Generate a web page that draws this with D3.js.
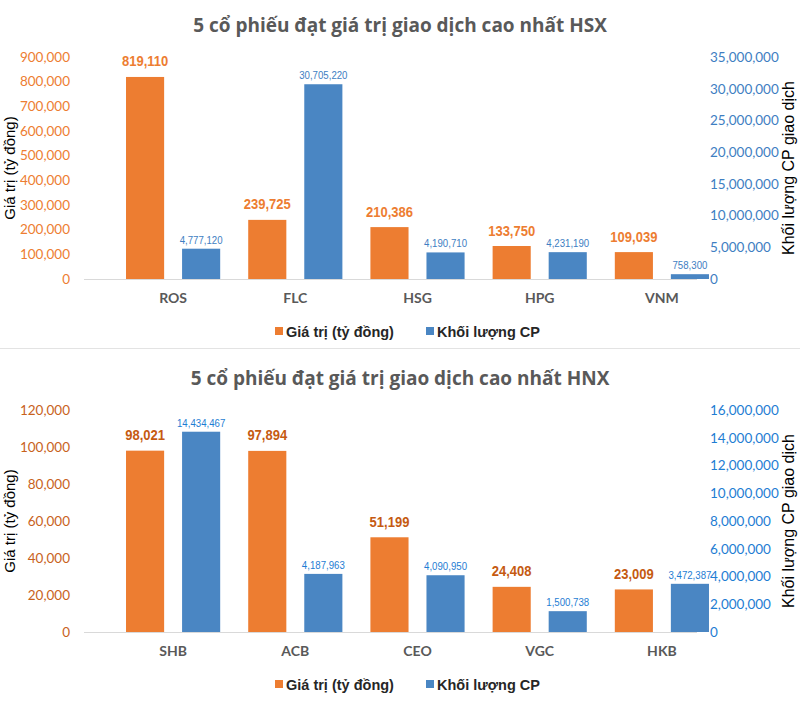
<!DOCTYPE html>
<html>
<head>
<meta charset="utf-8">
<script src="https://cdn.jsdelivr.net/npm/d3@7/dist/d3.min.js"></script>
<style>
  html, body { margin: 0; padding: 0; background: #fff; }
  svg { display: block; }
</style>
</head>
<body>
<svg id="chart" width="800" height="720"></svg>
<script>
// ---------- DATA ----------
const hsxTitle = "5 cổ phiếu đạt giá trị giao dịch cao nhất HSX";
const hsxCategories = ["ROS", "FLC", "HSG", "HPG", "VNM"];
const hsxValue = [819110, 239725, 210386, 133750, 109039];
const hsxVolume = [4777120, 30705220, 4190710, 4231190, 758300];
const hsxValueTicks = [0, 100000, 200000, 300000, 400000, 500000, 600000, 700000, 800000, 900000];
const hsxVolumeTicks = [0, 5000000, 10000000, 15000000, 20000000, 25000000, 30000000, 35000000];

const hnxTitle = "5 cổ phiếu đạt giá trị giao dịch cao nhất HNX";
const hnxCategories = ["SHB", "ACB", "CEO", "VGC", "HKB"];
const hnxValue = [98021, 97894, 51199, 24408, 23009];
const hnxVolume = [14434467, 4187963, 4090950, 1500738, 3472387];
const hnxValueTicks = [0, 20000, 40000, 60000, 80000, 100000, 120000];
const hnxVolumeTicks = [0, 2000000, 4000000, 6000000, 8000000, 10000000, 12000000, 14000000, 16000000];

const seriesNames = ["Giá trị (tỷ đồng)", "Khối lượng CP"];
const leftAxisTitle = "Giá trị (tỷ đồng)";
const rightAxisTitle = "Khối lượng CP giao dịch";

// ---------- STYLE ----------
const ORANGE = "#ED7D31";
const BLUE = "#4A86C3";
const fmt = d3.format(",");

const svg = d3.select("#chart");

function drawChart(cfg) {
  const oy = cfg.offsetY;
  const plotTop = 57 + oy, plotBottom = 279 + oy;
  const g = svg.append("g");

  const x = d3.scaleBand().domain(cfg.categories).range([112, 723]).paddingInner(0).paddingOuter(0);
  const inner = d3.scaleBand().domain(["value", "volume"]).range([0, x.bandwidth()])
    .paddingInner(0.32).paddingOuter(0.25);
  const yL = d3.scaleLinear().domain([0, d3.max(cfg.valueTicks)]).range([plotBottom, plotTop]);
  const yR = d3.scaleLinear().domain([0, d3.max(cfg.volumeTicks)]).range([plotBottom, plotTop]);

  // title
  g.append("text")
    .attr("x", 400).attr("y", 32 + oy)
    .attr("text-anchor", "middle")
    .attr("font-family", "'Open Sans', 'Noto Sans', sans-serif")
    .attr("font-weight", 700)
    .attr("font-size", 19)
    .attr("fill", "#595959")
    .text(cfg.title);

  // left axis
  const axL = g.append("g").attr("transform", "translate(70,0)")
    .call(d3.axisLeft(yL).tickValues(cfg.valueTicks).tickSize(0).tickPadding(0).tickFormat(fmt));
  axL.select(".domain").remove();
  axL.selectAll("text").attr("font-family", "Lato, 'Open Sans', sans-serif").attr("font-size", 13.5)
    .attr("fill", cfg.leftTickColor);

  // right axis
  const axR = g.append("g").attr("transform", "translate(710,0)")
    .call(d3.axisRight(yR).tickValues(cfg.volumeTicks).tickSize(0).tickPadding(0).tickFormat(fmt));
  axR.select(".domain").remove();
  axR.selectAll("text").attr("font-family", "Lato, 'Open Sans', sans-serif").attr("font-size", 13.5)
    .attr("fill", cfg.rightTickColor);

  // baseline
  g.append("line").attr("x1", 84).attr("x2", 697)
    .attr("y1", yL(0) + 0.5).attr("y2", yL(0) + 0.5)
    .attr("stroke", "#d9d9d9").attr("stroke-width", 1);

  // category axis
  const axX = g.append("g").attr("transform", `translate(0,${plotBottom})`)
    .call(d3.axisBottom(x).tickSize(0).tickPadding(14));
  axX.select(".domain").remove();
  axX.selectAll("text").attr("font-family", "Lato, 'Open Sans', sans-serif")
    .attr("font-weight", 700).attr("font-size", 14).attr("fill", "#595959");

  const rows = cfg.categories.map((c, i) => ({ c, v: cfg.value[i], q: cfg.volume[i] }));

  // orange bars
  g.selectAll(".bv").data(rows).join("rect")
    .attr("x", d => x(d.c) + inner("value"))
    .attr("width", inner.bandwidth())
    .attr("y", d => yL(d.v))
    .attr("height", d => yL(0) - yL(d.v))
    .attr("fill", ORANGE);

  // blue bars
  g.selectAll(".bq").data(rows).join("rect")
    .attr("x", d => x(d.c) + inner("volume"))
    .attr("width", inner.bandwidth())
    .attr("y", d => yR(d.q))
    .attr("height", d => yR(0) - yR(d.q))
    .attr("fill", BLUE);

  // orange labels (narrow bold)
  g.selectAll(".lv").data(rows).join("text")
    .attr("transform", d => `translate(${x(d.c) + inner("value") + inner.bandwidth() / 2},${yL(d.v) - 10.5}) scale(0.84,1)`)
    .attr("text-anchor", "middle")
    .attr("font-family", "'Liberation Sans', Arial, sans-serif")
    .attr("font-weight", 700).attr("font-size", 15.5)
    .attr("fill", cfg.valueLabelColor)
    .text(d => fmt(d.v));

  // blue labels (narrow regular)
  g.selectAll(".lq").data(rows).join("text")
    .attr("transform", d => `translate(${x(d.c) + inner("volume") + inner.bandwidth() / 2},${yR(d.q) - 5}) scale(0.84,1)`)
    .attr("text-anchor", "middle")
    .attr("font-family", "'Liberation Sans', Arial, sans-serif")
    .attr("font-size", 11.5)
    .attr("fill", cfg.volumeLabelColor)
    .text(d => fmt(d.q));

  // axis titles
  g.append("text")
    .attr("transform", `translate(15,${168 + oy}) rotate(-90)`)
    .attr("text-anchor", "middle")
    .attr("font-family", "'Liberation Sans', Arial, sans-serif")
    .attr("font-size", 15).attr("fill", "#000")
    .text(leftAxisTitle);
  g.append("text")
    .attr("transform", `translate(794,${168 + oy}) rotate(-90)`)
    .attr("text-anchor", "middle")
    .attr("font-family", "'Liberation Sans', Arial, sans-serif")
    .attr("font-size", 16).attr("fill", "#000")
    .text(rightAxisTitle);

  // legend
  const legY = 331 + oy;
  const legItems = [
    { name: seriesNames[0], color: ORANGE, x: 275 },
    { name: seriesNames[1], color: BLUE, x: 426 }
  ];
  const lg = g.selectAll(".leg").data(legItems).join("g")
    .attr("transform", d => `translate(${d.x},${legY})`);
  lg.append("rect").attr("x", 0).attr("y", -4).attr("width", 8).attr("height", 8).attr("fill", d => d.color);
  lg.append("text").attr("x", 11).attr("y", 5.5)
    .attr("font-family", "'Liberation Sans', Arial, sans-serif")
    .attr("font-weight", 700).attr("font-size", 14.5).attr("fill", "#262626")
    .text(d => d.name);
}

drawChart({
  offsetY: 0, title: hsxTitle, categories: hsxCategories, value: hsxValue, volume: hsxVolume,
  valueTicks: hsxValueTicks, volumeTicks: hsxVolumeTicks,
  leftTickColor: "#ED7D31", rightTickColor: "#3E7EC2",
  valueLabelColor: "#ED7D31", volumeLabelColor: "#3E7EC2"
});

// separator between the two charts
svg.append("line").attr("x1", 0).attr("x2", 800).attr("y1", 348.5).attr("y2", 348.5)
  .attr("stroke", "#e3e3e3").attr("stroke-width", 1);

drawChart({
  offsetY: 353, title: hnxTitle, categories: hnxCategories, value: hnxValue, volume: hnxVolume,
  valueTicks: hnxValueTicks, volumeTicks: hnxVolumeTicks,
  leftTickColor: "#C8621C", rightTickColor: "#1E7DD3",
  valueLabelColor: "#C55A11", volumeLabelColor: "#1E7DD3"
});
</script>
</body>
</html>
